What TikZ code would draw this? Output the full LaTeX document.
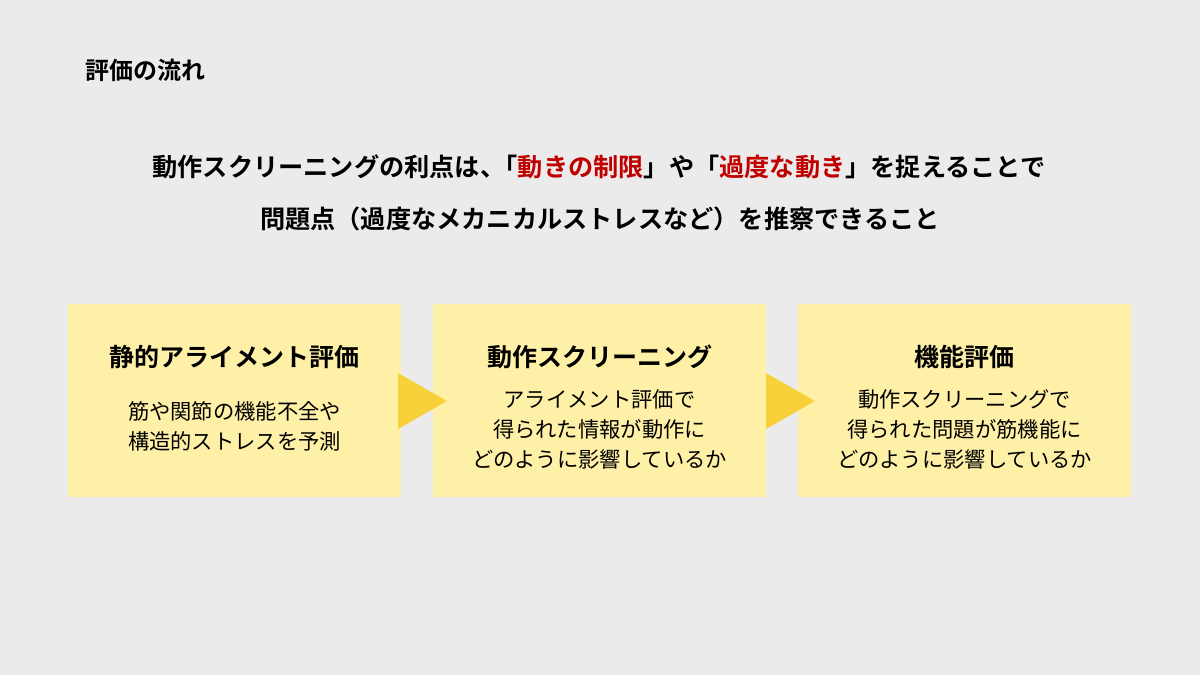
\documentclass[tikz,border=0pt]{standalone}
\usepackage{fontspec}
\setmainfont{Noto Sans CJK JP}[BoldFont={Noto Sans CJK JP Bold}]
\definecolor{bg}{HTML}{EBEBEB}
\definecolor{boxc}{HTML}{FFF0A8}
\definecolor{arr}{HTML}{F8D03A}
\definecolor{red}{HTML}{C00000}
\begin{document}
\begin{tikzpicture}[x=1pt,y=-1pt,
  stepbox/.style={fill=boxc,draw=none,minimum width=333pt,minimum height=193pt,anchor=north west,inner sep=0},
  head/.style={font=\fontsize{25}{30}\selectfont\bfseries,anchor=center},
  body/.style={font=\fontsize{21.3}{30}\selectfont,align=center,anchor=north}]
\fill[bg] (0,0) rectangle (1200,675);
\useasboundingbox (0,0) rectangle (1200,675);
\node[anchor=west,font=\fontsize{24}{28}\selectfont\bfseries,inner sep=0] (title) at (85,70) {評価の流れ};
\node[font=\fontsize{25.2}{30}\selectfont\bfseries] (l1) at (599,167) {動作スクリーニングの利点は、\hspace{-0.5em}「\textcolor{red}{動きの制限}」や「\textcolor{red}{過度な動き}」を捉えることで};
\node[font=\fontsize{25.2}{30}\selectfont\bfseries] (l2) at (600,219) {問題点（過度なメカニカルストレスなど）を推察できること};
\node[stepbox] (b1) at (68,304) {};
\node[stepbox] (b2) at (433,304) {};
\node[stepbox] (b3) at (798,304) {};
\fill[arr] (398,373) -- (447,401) -- (398,429) -- cycle;
\fill[arr] (766,373) -- (815,401) -- (766,429) -- cycle;
\node[head] (h1) at (234.5,357) {静的アライメント評価};
\node[head] (h2) at (599.5,357) {動作スクリーニング};
\node[head] (h3) at (964.5,357) {機能評価};
\node[body] (t1) at (234.5,398) {筋や関節の機能不全や\\構造的ストレスを予測};
\node[body] (t2) at (599.5,386) {アライメント評価で\\得られた情報が動作に\\どのように影響しているか};
\node[body] (t3) at (964.5,386) {動作スクリーニングで\\得られた問題が筋機能に\\どのように影響しているか};
\end{tikzpicture}
\end{document}
